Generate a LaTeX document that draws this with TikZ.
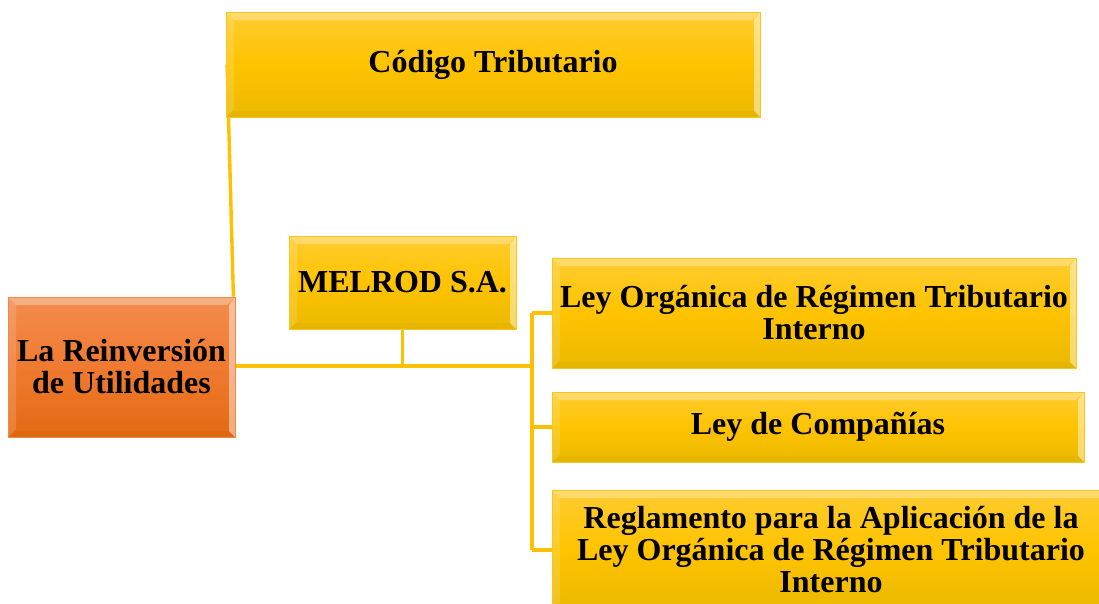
\documentclass[tikz,border=0pt]{standalone}
\usepackage{fontspec}
\setmainfont{Liberation Serif}
\usetikzlibrary{calc,backgrounds}
\definecolor{conncol}{HTML}{FFC000}
\definecolor{ytop}{HTML}{FFCC30}
\definecolor{ymid}{HTML}{FFC300}
\definecolor{ybot}{HTML}{EAB900}
\definecolor{yedge}{HTML}{F6C71E}
\definecolor{otop}{HTML}{F38C4E}
\definecolor{omid}{HTML}{EF7A30}
\definecolor{obot}{HTML}{E46A12}
\definecolor{oedge}{HTML}{F08848}
\tikzset{
  bevel/.style={path picture={
    \fill[white,fill opacity=0.3] (path picture bounding box.north west) -- (path picture bounding box.north east)
      -- ([shift={(-8pt,-8pt)}]path picture bounding box.north east) -- ([shift={(8pt,-8pt)}]path picture bounding box.north west) -- cycle;
    \fill[white,fill opacity=0.14] (path picture bounding box.north west) -- (path picture bounding box.south west)
      -- ([shift={(8pt,8pt)}]path picture bounding box.south west) -- ([shift={(8pt,-8pt)}]path picture bounding box.north west) -- cycle;
    \fill[white,fill opacity=0.45] (path picture bounding box.north east) -- (path picture bounding box.south east)
      -- ([shift={(-6pt,6pt)}]path picture bounding box.south east) -- ([shift={(-6pt,-8pt)}]path picture bounding box.north east) -- cycle;
    \fill[black,fill opacity=0.025] (path picture bounding box.south west) -- (path picture bounding box.south east)
      -- ([shift={(-6pt,6pt)}]path picture bounding box.south east) -- ([shift={(8pt,6pt)}]path picture bounding box.south west) -- cycle;
  }},
  basebox/.style={rectangle, inner sep=0pt, align=center, text=black,
    font=\fontsize{32}{32}\selectfont\bfseries, line width=0.8pt, bevel},
  ybox/.style={basebox, draw=yedge, top color=ytop, bottom color=ybot, middle color=ymid},
  obox/.style={basebox, draw=oedge, top color=otop, bottom color=obot, middle color=omid},
  conn/.style={draw=conncol, line width=3.4pt}
}
\begin{document}
\begin{tikzpicture}[x=1pt,y=-1pt]
\useasboundingbox (0,0) rectangle (1099,603);
\clip (0,0) rectangle (1099,603);
\coordinate (j) at (532,366);
\path (121.5,367) node[obox, minimum width=227pt, minimum height=140pt] (root) {La Reinversión\\de Utilidades};
\path (493,64.5) node[ybox, minimum width=534pt, minimum height=105pt] (codigo) {Código Tributario};
\path (402.5,282.5) node[ybox, minimum width=227pt, minimum height=93pt] (melrod) {MELROD S.A.};
\path (814,313) node[ybox, minimum width=524pt, minimum height=110pt] (ley1) {Ley Orgánica de Régimen Tributario\\Interno};
\path (818,427) node[ybox, minimum width=532pt, minimum height=70pt] (ley2) {Ley de Compañías};
\path (831,550) node[ybox, minimum width=558pt, minimum height=120pt] (regl) {Reglamento para la Aplicación de la\\Ley Orgánica de Régimen Tributario\\Interno};
\begin{scope}[on background layer]
\fill[white] (0,0) rectangle (1099,603);
\draw[conn] ([xshift=-2pt]root.north east) -- ([xshift=1.5pt]codigo.west);
\draw[conn] (root.east |- j) -- (j);
\draw[conn] (melrod.south) -- (melrod.south |- j);
\draw[conn] (j |- ley1.west) -- (j |- regl.west);
\draw[conn] (j |- ley1.west) -- (ley1.west);
\draw[conn] (j |- ley2.west) -- (ley2.west);
\draw[conn] (j |- regl.west) -- (regl.west);
\end{scope}
\end{tikzpicture}
\end{document}
